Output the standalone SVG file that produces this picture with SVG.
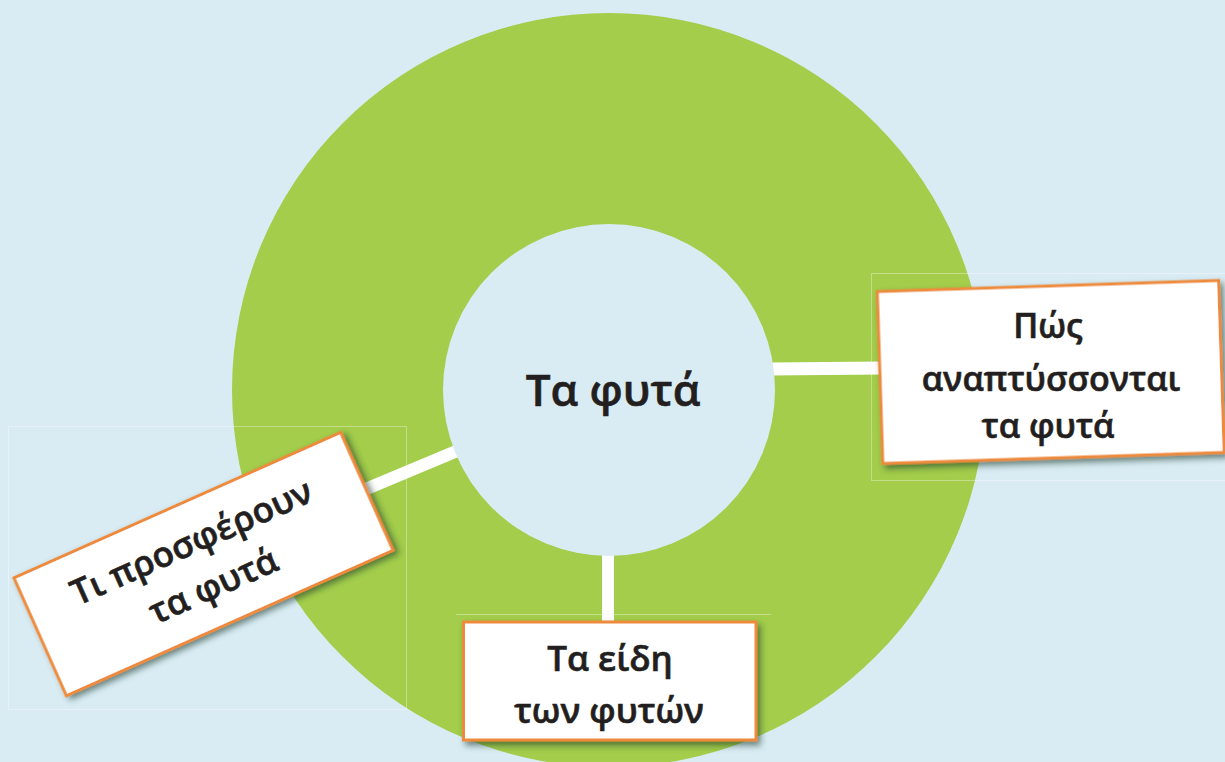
<svg xmlns="http://www.w3.org/2000/svg" width="1225" height="762" viewBox="0 0 1225 762">
<style>
.lbl{font-family:"Open Sans","Noto Sans","DejaVu Sans",sans-serif;font-weight:600;fill:#231f20;stroke:#231f20;stroke-width:0.6;text-anchor:middle}
.box{fill:#ffffff;stroke:#ee8a3a;stroke-width:3}
.bar{stroke:#ffffff;fill:none}
.frame{fill:none;stroke:#ffffff;stroke-opacity:0.35;stroke-width:1}
</style>
<defs>
<filter id="sh" x="-10%" y="-10%" width="125%" height="130%">
<feDropShadow dx="3" dy="4" stdDeviation="3" flood-color="#1f3a2a" flood-opacity="0.6"/>
</filter>
</defs>
<rect width="1225" height="762" fill="#d9ecf4"/>
<g id="ring">
<circle cx="609" cy="390" r="377" fill="#a3cd4b"/>
</g>
<g id="frames">
<rect class="frame" x="871.5" y="273.5" width="360" height="207"/>
<rect class="frame" x="8.5" y="426.5" width="398" height="283"/>
<line class="frame" x1="456" y1="614.5" x2="771" y2="614.5"/>
</g>
<g id="connectors">
<line class="bar" x1="770" y1="369" x2="882" y2="368" stroke-width="13"/>
<line class="bar" x1="458" y1="450.5" x2="366" y2="489" stroke-width="12.5"/>
<line class="bar" x1="608" y1="550" x2="608" y2="624" stroke-width="12"/>
</g>
<g id="center">
<circle cx="609" cy="390" r="166" fill="#d9ecf4"/>
<text class="lbl" x="613" y="406" font-size="44">Τα φυτά</text>
</g>
<g id="node-right">
<rect class="box" x="880" y="286" width="341.5" height="172" transform="rotate(-1.85 1050.9 372.3)" filter="url(#sh)"/>
<text class="lbl" x="1048" y="338" font-size="34">Πώς</text>
<text class="lbl" x="1051" y="391" font-size="34">αναπτύσσονται</text>
<text class="lbl" x="1048" y="438" font-size="34">τα φυτά</text>
</g>
<g id="node-left">
<g transform="translate(203.5 564.1) rotate(-24)">
<rect class="box" x="-178.8" y="-64.5" width="357.6" height="129" filter="url(#sh)"/>
<text class="lbl" x="-2" y="-13" font-size="35">Τι προσφέρουν</text>
<text class="lbl" x="0" y="36" font-size="35">τα φυτά</text>
</g>
</g>
<g id="node-bottom">
<rect class="box" x="463.5" y="622" width="292.5" height="118" filter="url(#sh)"/>
<text class="lbl" x="610" y="671" font-size="35">Τα είδη</text>
<text class="lbl" x="609" y="723" font-size="35">των φυτών</text>
</g>
</svg>
